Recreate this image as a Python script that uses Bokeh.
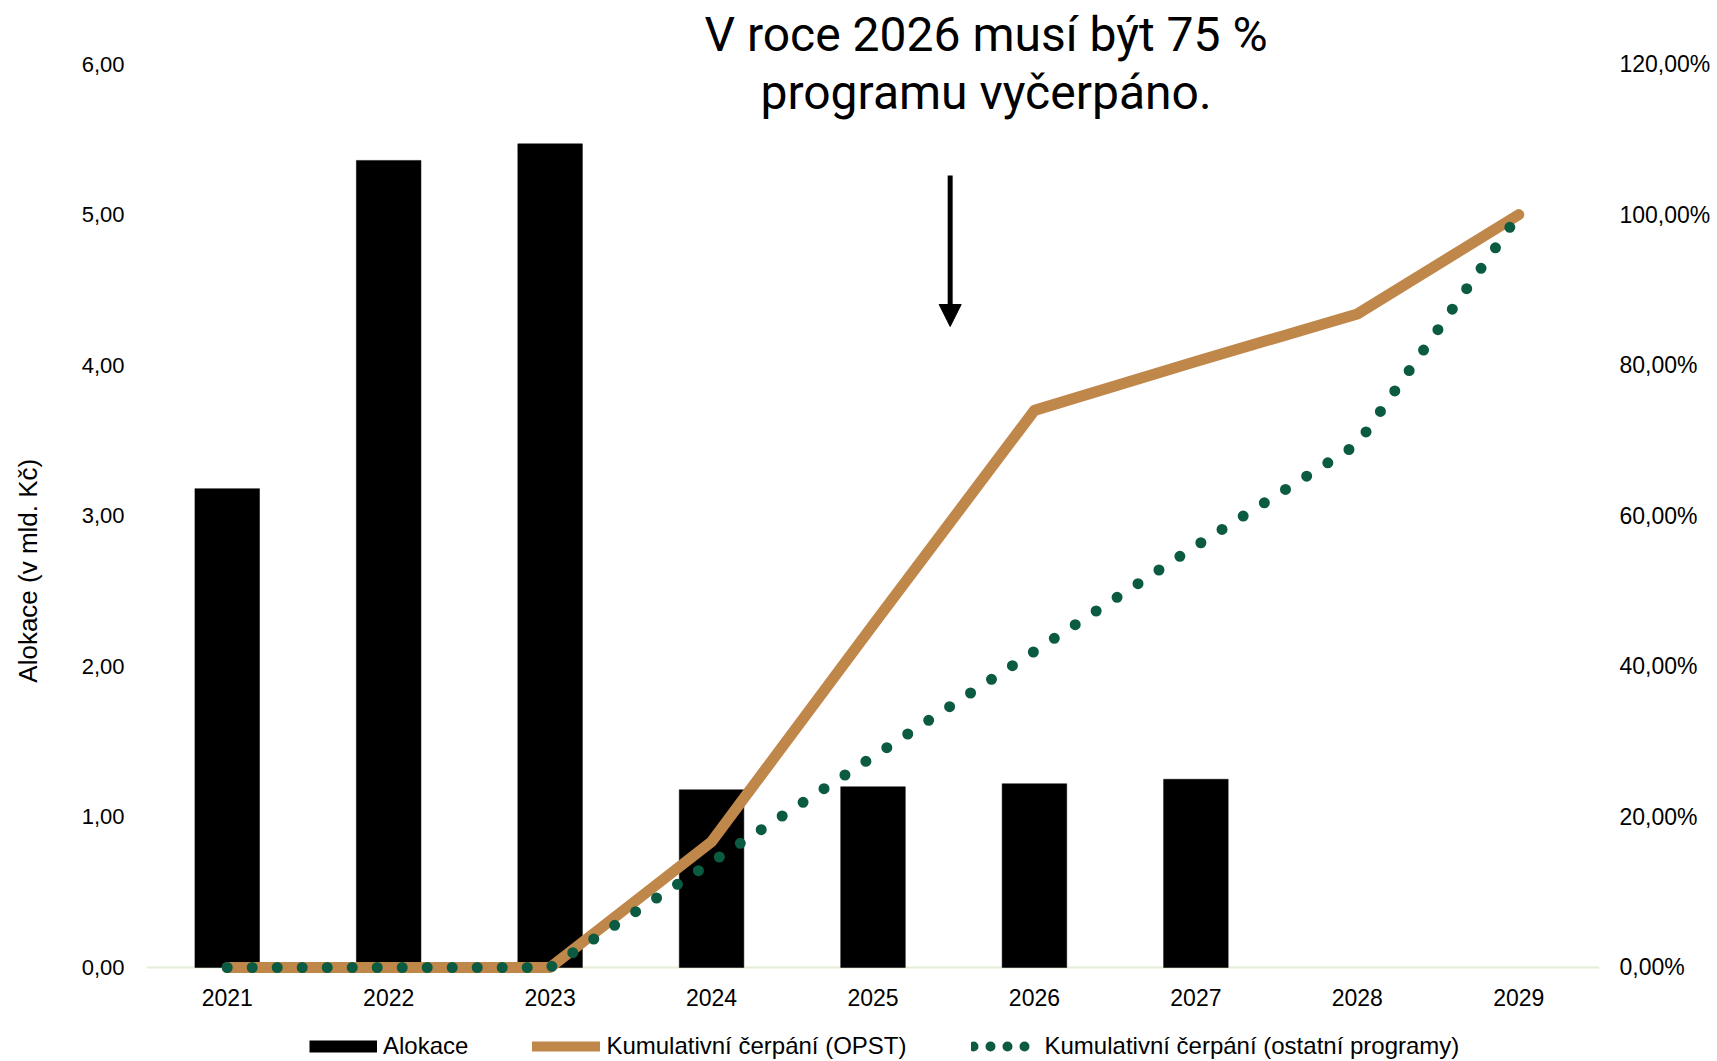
from bokeh.plotting import figure
from bokeh.models import (Range1d, LinearAxis, FixedTicker, CustomJSTickFormatter, Span,
                          Legend, LegendItem, Label, Arrow, NormalHead, ColumnDataSource)
from bokeh.core.properties import value
from bokeh.embed import file_html
from bokeh.resources import INLINE

# ---------------- data ----------------
years = ["2021", "2022", "2023", "2024", "2025", "2026", "2027", "2028", "2029"]
alokace = [3.18, 5.36, 5.47, 1.18, 1.20, 1.22, 1.25, float("nan"), float("nan")]
cerpani_opst = [0, 0, 0, 16.7, 45.5, 74.0, 80.5, 86.8, 100.0]
cerpani_ostatni = [0, 0, 0, 14.0, 28.0, 42.0, 56.0, 69.5, 100.0]
left_ticks = [0, 1, 2, 3, 4, 5, 6]
right_ticks = [0, 20, 40, 60, 80, 100, 120]
title_lines = ["V roce 2026 musí být 75 %", "programu vyčerpáno."]
legend_labels = ["Alokace", "Kumulativní čerpání (OPST)", "Kumulativní čerpání (ostatní programy)"]
y_label = "Alokace (v mld. Kč)"

BLACK = "#000000"
ORANGE = "#C0874A"
GREEN = "#0B5B43"
FONT = "Liberation Sans"
# frame covers the full canvas height (title above, category labels and legend below the zero line)
Y_TOP = 6.422
Y_BOT = -0.6243
XLABEL_Y = -0.196
NBSP = "\u00a0"

src = ColumnDataSource(dict(year=years, alokace=alokace,
                            opst=cerpani_opst, ostatni=cerpani_ostatni,
                            label_y=[XLABEL_Y] * len(years)))

p = figure(width=1717, height=1061, x_range=years, y_range=Range1d(Y_BOT, Y_TOP),
           output_backend="svg", toolbar_location=None,
           min_border_left=146, min_border_right=118, min_border_top=0, min_border_bottom=0)
p.extra_y_ranges = {"pct": Range1d(Y_BOT * 20, Y_TOP * 20)}
p.outline_line_color = None
p.xgrid.visible = False
p.ygrid.visible = False
p.xaxis.visible = False
p.background_fill_color = "white"
p.border_fill_color = "white"

# category axis baseline
p.add_layout(Span(location=0, dimension="width", line_color="#E4EDD8", line_width=2, level="underlay"))

bars = p.vbar(x="year", top="alokace", bottom=0, width=0.4, source=src,
              fill_color=BLACK, line_color=BLACK, line_width=0.5)
l1 = p.line(x="year", y="opst", source=src, y_range_name="pct",
            line_color=ORANGE, line_width=11, line_join="round", line_cap="round")
l2 = p.line(x="year", y="ostatni", source=src, y_range_name="pct",
            line_color=GREEN, line_width=11, line_dash="0 25", line_cap="round")

# category labels under the zero line
p.text(x="year", y="label_y", text="year", source=src, text_align="center", text_baseline="middle",
       text_font=value(FONT), text_font_size="23px", text_color="#000000")

# legend samples (one NaN point each, so nothing is drawn in the plot area)
lg0 = p.line(x=[years[0]], y=[float("nan")], line_color=BLACK, line_width=12, line_cap="butt")
lg1 = p.line(x=[years[0]], y=[float("nan")], line_color=ORANGE, line_width=10, line_cap="round")
lg2 = p.line(x=[years[0]], y=[float("nan")], line_color=GREEN, line_width=10, line_dash="0 17",
             line_dash_offset=15, line_cap="round")

# left axis
ya = p.yaxis[0]
ya.ticker = FixedTicker(ticks=left_ticks)
ya.formatter = CustomJSTickFormatter(code="return tick.toFixed(2).replace('.', ',');")
ya.axis_line_color = None
ya.major_tick_line_color = None
ya.minor_tick_line_color = None
ya.major_label_text_font = FONT
ya.major_label_text_font_size = "22px"
ya.major_label_text_color = "#000000"
ya.major_label_standoff = 16
# label sits lower than the frame centre in the original: pad its upper end
ya.axis_label = y_label + NBSP * 11
ya.axis_label_text_font = FONT
ya.axis_label_text_font_size = "26px"
ya.axis_label_text_font_style = "normal"
ya.axis_label_text_color = "#000000"
ya.axis_label_standoff = 36

# right axis (percent)
ra = LinearAxis(y_range_name="pct", ticker=FixedTicker(ticks=right_ticks),
                formatter=CustomJSTickFormatter(code="return tick.toFixed(2).replace('.', ',') + '%';"))
ra.axis_line_color = None
ra.major_tick_line_color = None
ra.minor_tick_line_color = None
ra.major_label_text_font = FONT
ra.major_label_text_font_size = "23px"
ra.major_label_text_color = "#000000"
ra.major_label_standoff = 14
p.add_layout(ra, "right")

# title lines inside plot
p.add_layout(Label(x=5.2, y=6.196, text=title_lines[0], text_align="center", text_baseline="middle",
                   text_font="Roboto", text_font_size="48px", text_color="#000000"))
p.add_layout(Label(x=5.2, y=5.809, text=title_lines[1], text_align="center", text_baseline="middle",
                   text_font="Roboto", text_font_size="48px", text_color="#000000"))

# arrow
p.add_layout(Arrow(x_start=4.978, y_start=5.26, x_end=4.978, y_end=4.257,
                   line_color=BLACK, line_width=5,
                   end=NormalHead(size=22, fill_color=BLACK, line_color=BLACK)))

legend = Legend(items=[LegendItem(label=legend_labels[0], renderers=[lg0]),
                       LegendItem(label=legend_labels[1], renderers=[lg1]),
                       LegendItem(label=legend_labels[2], renderers=[lg2])],
                orientation="horizontal", location=(163, 1),
                glyph_width=68, glyph_height=24, label_height=24, label_standoff=6,
                spacing=64, padding=2, margin=0,
                label_text_font=FONT, label_text_font_size="24px", label_text_color="#000000",
                border_line_color=None, background_fill_alpha=0)
p.add_layout(legend, "center")

open("out.html", "w").write(file_html(p, INLINE))
